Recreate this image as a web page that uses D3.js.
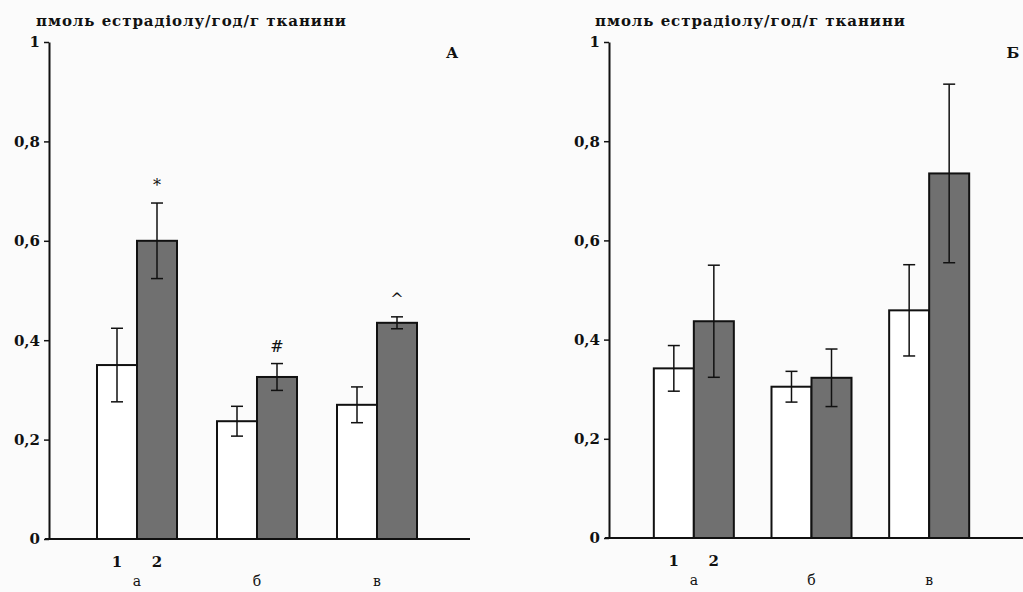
<!DOCTYPE html>
<html>
<head>
<meta charset="utf-8">
<script src="https://cdn.jsdelivr.net/npm/d3@7"></script>
<style>
  html, body { margin: 0; padding: 0; background: #fbfbfb; }
  svg { display: block; }
  text { font-family: "DejaVu Serif", "Liberation Serif", serif; fill: #111; }
</style>
</head>
<body>
<svg id="chart"></svg>
<script>
// data
const groups = ["а", "б", "в"];
const seriesNames = ["1", "2"];
const yTicks = [0, 0.2, 0.4, 0.6, 0.8, 1];
const yTitle = "пмоль естрадіолу/год/г тканини";

const aSeries1 = [0.35, 0.237, 0.27];
const aErr1    = [0.074, 0.03, 0.036];
const aSeries2 = [0.60, 0.326, 0.435];
const aErr2    = [0.076, 0.027, 0.012];
const aMarks   = ["*", "#", "^"];

const bSeries1 = [0.342, 0.305, 0.459];
const bErr1    = [0.046, 0.031, 0.092];
const bSeries2 = [0.437, 0.323, 0.735];
const bErr2    = [0.113, 0.058, 0.18];
const bMarks   = ["", "", ""];

const width = 1023, height = 592;
const fills = ["#ffffff", "#707070"];

const svg = d3.select("#chart")
    .attr("width", width)
    .attr("height", height);

const panels = [
  { label: "А", s1: aSeries1, e1: aErr1, s2: aSeries2, e2: aErr2, marks: aMarks,
    axisX: 49, lineEnd: 470, top: 42, bottom: 539, band: [77, 437], pad: [1/3, 1/6],
    titleX: 36, labelX: 452 },
  { label: "Б", s1: bSeries1, e1: bErr1, s2: bSeries2, e2: bErr2, marks: bMarks,
    axisX: 609, lineEnd: 1023, top: 42, bottom: 538, band: [635, 988], pad: [0.32, 0.16],
    titleX: 595, labelX: 1013 }
];

const fmt = d => d3.format("~g")(d).replace(".", ",");

panels.forEach(p => {
  const g = svg.append("g");

  const y = d3.scaleLinear().domain([0, 1]).range([p.bottom, p.top]);

  const x = d3.scaleBand()
      .domain(groups)
      .range(p.band)
      .paddingInner(p.pad[0])
      .paddingOuter(p.pad[1]);

  const xs = d3.scaleBand()
      .domain(seriesNames)
      .range([0, x.bandwidth()]);

  const rows = groups.map((grp, i) => ({
    grp,
    vals: [
      { s: "1", v: p.s1[i], e: p.e1[i] },
      { s: "2", v: p.s2[i], e: p.e2[i] }
    ],
    mark: p.marks[i]
  }));

  // title + panel letter
  g.append("text")
      .attr("x", p.titleX)
      .attr("y", 26)
      .attr("font-size", 15)
      .attr("font-weight", "bold")
      .attr("textLength", 310)
      .attr("lengthAdjust", "spacing")
      .text(yTitle);

  g.append("text")
      .attr("x", p.labelX)
      .attr("y", 58)
      .attr("text-anchor", "middle")
      .attr("font-size", 15)
      .attr("font-weight", "bold")
      .text(p.label);

  // bars
  const grpG = g.selectAll(".grp")
    .data(rows)
    .join("g")
      .attr("transform", d => `translate(${x(d.grp)},0)`);

  grpG.selectAll("rect")
    .data(d => d.vals)
    .join("rect")
      .attr("x", d => xs(d.s))
      .attr("y", d => y(d.v))
      .attr("width", xs.bandwidth())
      .attr("height", d => y(0) - y(d.v))
      .attr("fill", (d, i) => fills[i])
      .attr("stroke", "#111")
      .attr("stroke-width", 2);

  // error bars
  const eb = grpG.selectAll(".err")
    .data(d => d.vals)
    .join("g")
      .attr("transform", d => `translate(${xs(d.s) + xs.bandwidth() / 2},0)`)
      .attr("stroke", "#111")
      .attr("stroke-width", 1.5);

  eb.append("line")
      .attr("y1", d => y(d.v + d.e))
      .attr("y2", d => y(d.v - d.e));
  eb.append("line")
      .attr("x1", -6).attr("x2", 6)
      .attr("y1", d => y(d.v + d.e)).attr("y2", d => y(d.v + d.e));
  eb.append("line")
      .attr("x1", -6).attr("x2", 6)
      .attr("y1", d => y(d.v - d.e)).attr("y2", d => y(d.v - d.e));

  // significance marks over bar 2
  grpG.append("text")
      .attr("x", xs("2") + xs.bandwidth() / 2)
      .attr("y", d => y(d.vals[1].v + d.vals[1].e) - 12)
      .attr("text-anchor", "middle")
      .attr("font-size", 16)
      .text(d => d.mark);

  // x axis line
  g.append("line")
      .attr("x1", p.axisX - 4).attr("x2", p.lineEnd)
      .attr("y1", y(0)).attr("y2", y(0))
      .attr("stroke", "#111")
      .attr("stroke-width", 2);

  // y axis
  const yAxis = g.append("g")
      .attr("transform", `translate(${p.axisX},0)`)
      .call(d3.axisLeft(y).tickValues(yTicks).tickFormat(fmt).tickSize(5).tickSizeOuter(0));
  yAxis.select(".domain").attr("stroke", "#111").attr("stroke-width", 2);
  yAxis.selectAll(".tick line").attr("stroke", "#111").attr("stroke-width", 1.5);
  yAxis.selectAll(".tick text")
      .attr("x", -9)
      .attr("font-family", "DejaVu Serif, serif")
      .attr("font-size", 15)
      .attr("font-weight", "bold")
      .attr("fill", "#111");

  // series labels under the first group
  g.selectAll(".sname")
    .data(seriesNames)
    .join("text")
      .attr("x", s => x(groups[0]) + xs(s) + xs.bandwidth() / 2)
      .attr("y", y(0) + 28)
      .attr("text-anchor", "middle")
      .attr("font-size", 15)
      .attr("font-weight", "bold")
      .text(s => s);

  // group labels
  g.selectAll(".gname")
    .data(groups)
    .join("text")
      .attr("x", d => x(d) + x.bandwidth() / 2)
      .attr("y", y(0) + 47)
      .attr("text-anchor", "middle")
      .attr("font-size", 14)
      .text(d => d);
});
</script>
</body>
</html>
